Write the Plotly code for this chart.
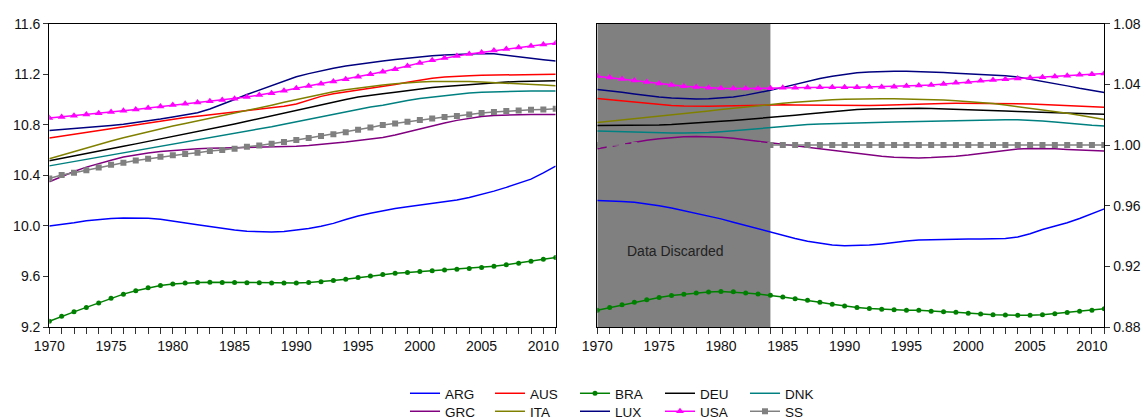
import plotly.graph_objects as go

years = list(range(1970, 2012))

# ---- Left panel (levels) ----
ARG_L = [10.00, 10.01, 10.025, 10.04, 10.05, 10.058, 10.062, 10.063, 10.06, 10.052, 10.04, 10.025, 10.01, 9.995,
         9.98, 9.968, 9.958, 9.953, 9.952, 9.956, 9.966, 9.98, 9.998, 10.02, 10.05, 10.079, 10.10, 10.12, 10.138,
         10.152, 10.164, 10.176, 10.19, 10.205, 10.225, 10.249, 10.275, 10.305, 10.336, 10.37, 10.42, 10.473]
AUS_L = [10.695, 10.71, 10.725, 10.74, 10.755, 10.77, 10.785, 10.80, 10.815, 10.83, 10.845, 10.857, 10.868, 10.879,
         10.89, 10.90, 10.91, 10.922, 10.934, 10.947, 10.965, 10.995, 11.025, 11.045, 11.06, 11.072, 11.085, 11.10,
         11.118, 11.137, 11.154, 11.168, 11.178, 11.185, 11.189, 11.192, 11.194, 11.196, 11.197, 11.198, 11.199, 11.2]
BRA_L = [9.245, 9.285, 9.32, 9.355, 9.39, 9.427, 9.46, 9.487, 9.51, 9.528, 9.540, 9.548, 9.552, 9.554, 9.553, 9.552,
         9.551, 9.550, 9.549, 9.548, 9.549, 9.552, 9.558, 9.567, 9.578, 9.591, 9.604, 9.616, 9.625, 9.632, 9.639,
         9.645, 9.651, 9.657, 9.663, 9.670, 9.680, 9.692, 9.705, 9.72, 9.736, 9.75]
DEU_L = [10.515, 10.535, 10.554, 10.573, 10.592, 10.611, 10.63, 10.649, 10.668, 10.687, 10.706, 10.725, 10.745,
         10.765, 10.786, 10.807, 10.828, 10.85, 10.872, 10.895, 10.918, 10.94, 10.96, 10.98, 11.0, 11.02, 11.035,
         11.045, 11.058, 11.072, 11.085, 11.095, 11.104, 11.112, 11.12, 11.128, 11.134, 11.139, 11.143, 11.146,
         11.148, 11.149]
DNK_L = [10.475, 10.492, 10.509, 10.526, 10.543, 10.56, 10.577, 10.594, 10.611, 10.628, 10.645, 10.662, 10.679,
         10.696, 10.713, 10.73, 10.748, 10.766, 10.785, 10.805, 10.825, 10.845, 10.865, 10.885, 10.905, 10.925,
         10.94, 10.955, 10.975, 10.992, 11.008, 11.02, 11.032, 11.042, 11.051, 11.058, 11.062, 11.065, 11.066,
         11.067, 11.067, 11.067]
GRC_L = [10.349, 10.39, 10.43, 10.465, 10.495, 10.52, 10.545, 10.563, 10.577, 10.588, 10.597, 10.604, 10.61, 10.614,
         10.616, 10.617, 10.618, 10.619, 10.621, 10.625, 10.63, 10.636, 10.643, 10.652, 10.663, 10.675, 10.687,
         10.70, 10.72, 10.745, 10.77, 10.792, 10.815, 10.835, 10.853, 10.866, 10.874, 10.878, 10.88, 10.881,
         10.882, 10.882]
ITA_L = [10.531, 10.56, 10.59, 10.618, 10.645, 10.672, 10.698, 10.722, 10.745, 10.767, 10.79, 10.81, 10.83, 10.85,
         10.87, 10.89, 10.91, 10.93, 10.955, 10.978, 11.0, 11.022, 11.042, 11.062, 11.078, 11.092, 11.104, 11.115,
         11.125, 11.133, 11.138, 11.142, 11.144, 11.144, 11.142, 11.139, 11.135, 11.13, 11.125, 11.12, 11.114, 11.109]
LUX_L = [10.755, 10.762, 10.770, 10.778, 10.786, 10.795, 10.805, 10.817, 10.830, 10.845, 10.862, 10.878, 10.895,
         10.925, 10.96, 11.0, 11.04, 11.075, 11.11, 11.15, 11.18, 11.205, 11.228, 11.248, 11.265, 11.28, 11.293,
         11.305, 11.317, 11.328, 11.338, 11.346, 11.353, 11.359, 11.363, 11.365, 11.362, 11.352, 11.34, 11.327,
         11.315, 11.305]
USA_L = [10.853, 10.862, 10.872, 10.882, 10.892, 10.902, 10.912, 10.922, 10.933, 10.944, 10.956, 10.966, 10.976,
         10.986, 10.996, 11.006, 11.02, 11.035, 11.05, 11.07, 11.09, 11.108, 11.125, 11.143, 11.16, 11.18, 11.2,
         11.22, 11.24, 11.265, 11.29, 11.31, 11.328, 11.345, 11.36, 11.373, 11.387, 11.40, 11.412, 11.424, 11.435,
         11.445]
SS_L = [10.375, 10.402, 10.42, 10.441, 10.462, 10.483, 10.499, 10.518, 10.531, 10.547, 10.56, 10.568, 10.578,
        10.592, 10.60, 10.61, 10.626, 10.637, 10.65, 10.664, 10.679, 10.695, 10.711, 10.726, 10.742, 10.76, 10.779,
        10.798, 10.811, 10.824, 10.837, 10.85, 10.861, 10.869, 10.882, 10.893, 10.901, 10.909, 10.914, 10.919,
        10.922, 10.927]

# ---- Right panel (ratios) ----
ARG_R = [0.9634, 0.9632, 0.9628, 0.9622, 0.9613, 0.9600, 0.9585, 0.9568, 0.9550, 0.9532, 0.9513, 0.9491, 0.9469,
         0.9446, 0.9424, 0.9403, 0.9383, 0.9366, 0.9351, 0.9341, 0.9336, 0.9336, 0.9340, 0.9348, 0.9358, 0.9367,
         0.9373, 0.9376, 0.9378, 0.9379, 0.9380, 0.9380, 0.9380, 0.9384, 0.9393, 0.9415, 0.9443, 0.9465, 0.9487,
         0.9515, 0.9547, 0.9579]
AUS_R = [1.0306, 1.0298, 1.0290, 1.0281, 1.0273, 1.0266, 1.0261, 1.0258, 1.0256, 1.0256, 1.0257, 1.0259, 1.0261,
         1.0263, 1.0265, 1.0265, 1.0264, 1.0263, 1.0262, 1.0261, 1.0260, 1.0260, 1.0261, 1.0263, 1.0266, 1.0269,
         1.0271, 1.0273, 1.0274, 1.0275, 1.0275, 1.0275, 1.0275, 1.0274, 1.0273, 1.0271, 1.0268, 1.0264, 1.0260,
         1.0256, 1.0252, 1.0249]
BRA_R = [0.8911, 0.8928, 0.8946, 0.8963, 0.8979, 0.8994, 0.9007, 0.9016, 0.9025, 0.9030, 0.9034, 0.9032, 0.9025,
         0.9018, 0.9010, 0.8998, 0.8987, 0.8977, 0.8963, 0.8950, 0.8939, 0.8928, 0.8922, 0.8917, 0.8913, 0.8911,
         0.8910, 0.8904, 0.8901, 0.8897, 0.8891, 0.8886, 0.8881, 0.8879, 0.8877, 0.8877, 0.8881, 0.8888, 0.8895,
         0.8904, 0.8911, 0.8920]
DEU_R = [1.0128, 1.0128, 1.0128, 1.0129, 1.0130, 1.0132, 1.0135, 1.0139, 1.0144, 1.0150, 1.0156, 1.0162, 1.0168,
         1.0175, 1.0181, 1.0188, 1.0196, 1.0204, 1.0212, 1.0220, 1.0228, 1.0234, 1.0238, 1.0240, 1.0241, 1.0242,
         1.0242, 1.0241, 1.0239, 1.0236, 1.0233, 1.0230, 1.0227, 1.0224, 1.0221, 1.0218, 1.0215, 1.0212, 1.0209,
         1.0207, 1.0205, 1.0203]
DNK_R = [1.0092, 1.0089, 1.0086, 1.0083, 1.0081, 1.0080, 1.0079, 1.0079, 1.0080, 1.0083, 1.0088, 1.0095, 1.0103,
         1.0110, 1.0117, 1.0124, 1.0130, 1.0135, 1.0139, 1.0142, 1.0144, 1.0146, 1.0148, 1.0150, 1.0152, 1.0154,
         1.0156, 1.0158, 1.0160, 1.0162, 1.0164, 1.0166, 1.0167, 1.0167, 1.0166, 1.0163, 1.0158, 1.0151, 1.0143,
         1.0136, 1.0130, 1.0125]
GRC_R = [0.9976, 0.9990, 1.0005, 1.0019, 1.0031, 1.0041, 1.0049, 1.0055, 1.0057, 1.0056, 1.0052, 1.0045, 1.0035,
         1.0024, 1.0013, 1.0002, 0.9992, 0.9982, 0.9972, 0.9962, 0.9952, 0.9944, 0.9935, 0.9926, 0.9920, 0.9916,
         0.9915, 0.9917, 0.9920, 0.9926, 0.9934, 0.9944, 0.9955, 0.9966, 0.9974, 0.9977, 0.9977, 0.9975, 0.9971,
         0.9967, 0.9963, 0.9960]
ITA_R = [1.0148, 1.0156, 1.0164, 1.0172, 1.0180, 1.0189, 1.0198, 1.0207, 1.0216, 1.0225, 1.0234, 1.0243, 1.0251,
         1.0259, 1.0267, 1.0275, 1.0282, 1.0289, 1.0295, 1.0299, 1.0302, 1.0304, 1.0305, 1.0305, 1.0305, 1.0304,
         1.0303, 1.0301, 1.0297, 1.0292, 1.0287, 1.0281, 1.0273, 1.0264, 1.0254, 1.0244, 1.0233, 1.0222, 1.0209,
         1.0196, 1.0183, 1.0169]
LUX_R = [1.0366, 1.0358, 1.0348, 1.0337, 1.0326, 1.0317, 1.0310, 1.0306, 1.0304, 1.0305, 1.0309, 1.0317, 1.0329,
         1.0344, 1.0361, 1.0380, 1.0400, 1.0421, 1.0439, 1.0454, 1.0467, 1.0476, 1.0482, 1.0486, 1.0487, 1.0487,
         1.0485, 1.0482, 1.0478, 1.0474, 1.0470, 1.0466, 1.0461, 1.0456, 1.0449, 1.0435, 1.0418, 1.0405, 1.0390,
         1.0374, 1.0360, 1.0346]
USA_R = [1.0454, 1.0445, 1.0436, 1.0426, 1.0416, 1.0406, 1.0396, 1.0388, 1.0383, 1.0377, 1.0375, 1.0373, 1.0373,
         1.0373, 1.0375, 1.0377, 1.0377, 1.0379, 1.0381, 1.0381, 1.0381, 1.0381, 1.0383, 1.0383, 1.0385, 1.0390,
         1.0392, 1.0396, 1.0403, 1.0410, 1.0416, 1.0423, 1.0428, 1.0434, 1.0439, 1.0443, 1.0447, 1.0452, 1.0456,
         1.0463, 1.0467, 1.0472]
SS_R = [1.0] * len(years)

names = ["ARG", "AUS", "BRA", "DEU", "DNK", "GRC", "ITA", "LUX", "USA", "SS"]
left_vals = [ARG_L, AUS_L, BRA_L, DEU_L, DNK_L, GRC_L, ITA_L, LUX_L, USA_L, SS_L]
right_vals = [ARG_R, AUS_R, BRA_R, DEU_R, DNK_R, GRC_R, ITA_R, LUX_R, USA_R, SS_R]
colors = {"ARG": "#0000FF", "AUS": "#FF0000", "BRA": "#008000", "DEU": "#000000", "DNK": "#008080",
          "GRC": "#800080", "ITA": "#808000", "LUX": "#000080", "USA": "#FF00FF", "SS": "#808080"}
markers = {"BRA": ("circle", 5), "USA": ("triangle-up", 7), "SS": ("square", 6)}

discard_start, discard_end = 1970, 1984

FONT = "Liberation Sans, Arial, sans-serif"
W, H = 1146, 419
L1, R1, L2, R2, T, B = 49.3, 555.7, 597.3, 1104.3, 23.7, 327.0

fig = go.Figure()

for i, n in enumerate(names):
    for panel, vals in (("L", left_vals[i]), ("R", right_vals[i])):
        kw = dict(x=years, y=vals, name=n, line=dict(color=colors[n], width=1.5),
                  showlegend=(panel == "L"), legend=("legend" if i < 5 else "legend2"))
        if n in markers:
            sym, sz = markers[n]
            kw["mode"] = "lines+markers"
            kw["marker"] = dict(symbol=sym, size=sz, color=colors[n])
        else:
            kw["mode"] = "lines"
        if panel == "R":
            kw["xaxis"] = "x2"
            kw["yaxis"] = "y2"
        fig.add_trace(go.Scatter(**kw))

fig.add_shape(type="rect", xref="x2", yref="y2 domain", x0=discard_start, x1=discard_end, y0=0, y1=1,
              fillcolor="#808080", line=dict(width=0), layer="below")
fig.add_annotation(x=1976.35, y=0.930, xref="x2", yref="y2", text="Data Discarded", showarrow=False,
                   font=dict(family=FONT, size=14, color="#222222"))

xcommon = dict(range=[1970, 2011], tick0=1970, dtick=5, ticks="outside", ticklen=6, tickwidth=1,
               tickcolor="#333333", minor=dict(dtick=1, ticks="outside", ticklen=6, tickcolor="#333333"),
               showline=True, linecolor="#000000", linewidth=1.3, mirror=True, showgrid=False, zeroline=False,
               automargin=False, tickfont=dict(family=FONT, size=14, color="#111111"))
ycommon = dict(ticks="outside", ticklen=5, tickwidth=1, tickcolor="#333333", showline=True,
               linecolor="#000000", linewidth=1.3, mirror=True, showgrid=False, zeroline=False,
               automargin=False, tickfont=dict(family=FONT, size=14, color="#111111"))

legcommon = dict(orientation="h", xref="container", yref="container", xanchor="left", yanchor="top",
                 entrywidth=40, entrywidthmode="pixels", font=dict(family=FONT, size=13.5, color="#111111"),
                 bgcolor="rgba(0,0,0,0)", tracegroupgap=0, itemwidth=30)

ydom = [1 - B / H, 1 - T / H]
fig.update_layout(
    width=W, height=H, autosize=False,
    margin=dict(l=0, r=0, t=0, b=0, autoexpand=False),
    paper_bgcolor="white", plot_bgcolor="white",
    xaxis=dict(domain=[L1 / W, R1 / W], anchor="y", **xcommon),
    yaxis=dict(domain=ydom, anchor="x", range=[9.2, 11.6], tick0=9.2, dtick=0.4, tickformat=".1f", **ycommon),
    xaxis2=dict(domain=[L2 / W, R2 / W], anchor="y2", **xcommon),
    yaxis2=dict(domain=ydom, anchor="x2", side="right", range=[0.88, 1.08], tick0=0.88, dtick=0.04,
                tickformat=".2f", **ycommon),
    legend=dict(x=405 / W, y=1 - 378 / H, **legcommon),
    legend2=dict(x=405 / W, y=1 - 396 / H, **legcommon),
)

fig.write_html("out.html")
